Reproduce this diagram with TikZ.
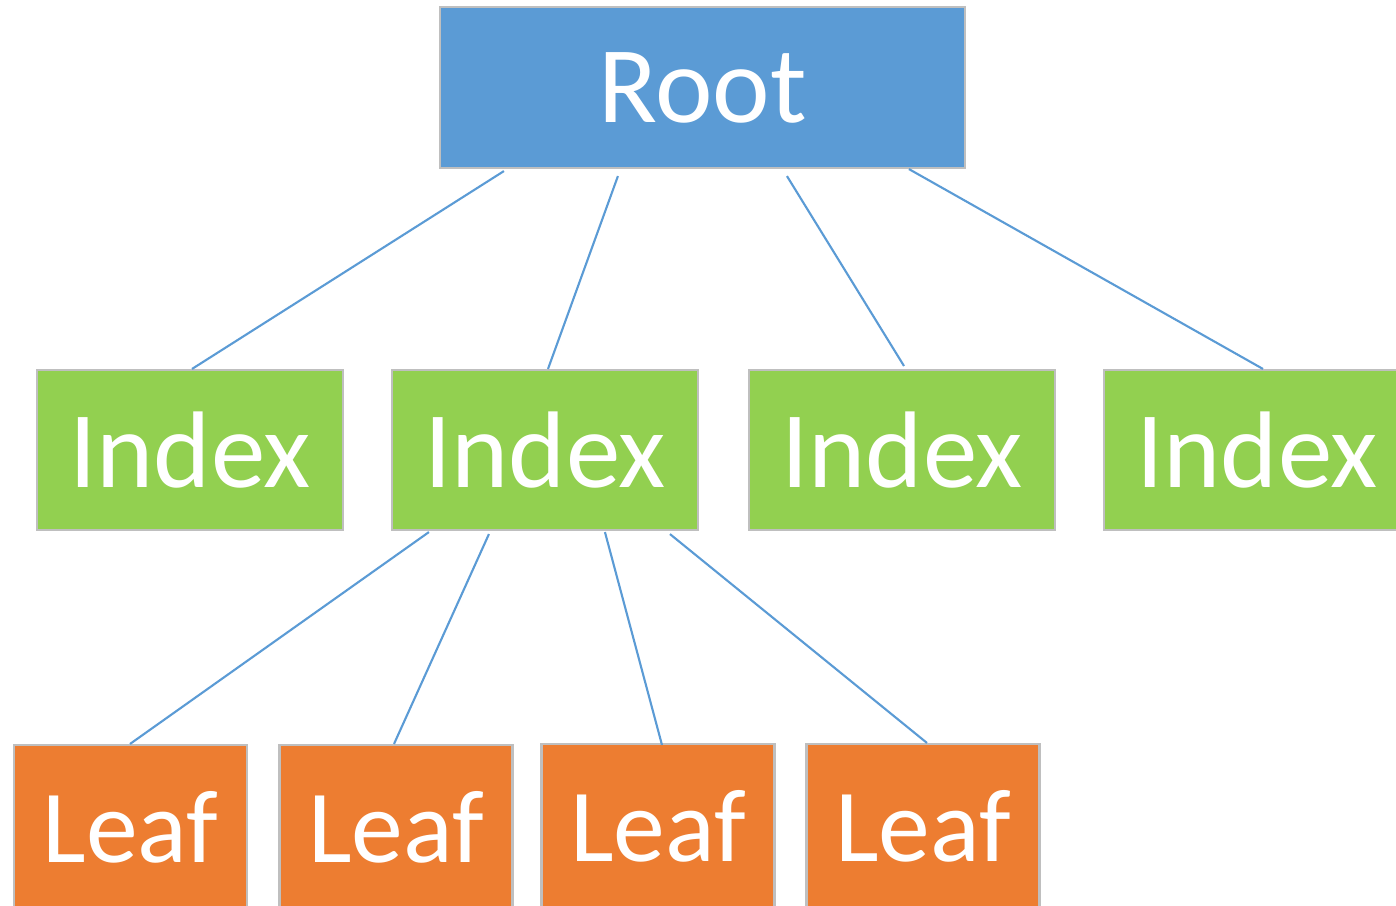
\documentclass[tikz,border=0pt]{standalone}
\usepackage{fontspec}
\setmainfont{Carlito}
\usetikzlibrary{calc}

\definecolor{rootblue}{HTML}{5B9BD5}
\definecolor{indexgreen}{HTML}{92D050}
\definecolor{leaforange}{HTML}{ED7D31}
\definecolor{edgeblue}{HTML}{5B9BD5}

\begin{document}
\begin{tikzpicture}

  \tikzstyle{every node}=[font=\fontsize{31}{37}\selectfont, text=white]

  \tikzset{box/.style={draw=black!25, line width=0.6pt, inner sep=0pt},
    rootbox/.style={box, fill=rootblue, minimum width=5.25cm, minimum height=1.61cm},
    indexbox/.style={box, fill=indexgreen, minimum width=3.06cm, minimum height=1.60cm},
    leafbox/.style={box, fill=leaforange, minimum width=2.33cm, minimum height=1.64cm,
      font=\fontsize{29.5}{35}\selectfont}, 
    link/.style={draw=edgeblue, line width=0.6pt}}

  % Page frame, boxes on the right and bottom run past it
  \clip (0,0) rectangle (13.96,-9.05);

  % Top level
  \node[rootbox] (Root) at (7.025,-0.875) {Root};

  % Second level
  \node[indexbox] (Index 1) at (1.90,-4.50) {Index};
  \node[indexbox] (Index 2) at (5.45,-4.50) {Index};
  \node[indexbox] (Index 3) at (9.02,-4.50) {Index};
  \node[indexbox] (Index 4) at (12.57,-4.50) {Index};

  % Leaves under the second index
  \node[leafbox] (Leaf 1) at (1.305,-8.27) {Leaf};
  \node[leafbox] (Leaf 2) at (3.96,-8.27) {Leaf};
  \node[leafbox] (Leaf 3) at (6.58,-8.26) {Leaf};
  \node[leafbox] (Leaf 4) at (9.23,-8.26) {Leaf};

  % Root to index nodes
  \draw[link] ($(Root.south west)+(0.65,-0.02)$) -- ($(Index 1.north)+(0.02,0)$);
  \draw[link] ($(Root.south west)+(1.79,-0.07)$) -- ($(Index 2.north)+(0.03,0)$);
  \draw[link] ($(Root.south west)+(3.48,-0.07)$) -- ($(Index 3.north)+(0.02,0.03)$);
  \draw[link] ($(Root.south west)+(4.70,0)$) -- ($(Index 4.north)+(0.06,0)$);

  % Second index to leaves
  \draw[link] ($(Index 2.south west)+(0.38,-0.01)$) -- ($(Leaf 1.north)+(-0.005,0)$);
  \draw[link] ($(Index 2.south west)+(0.98,-0.03)$) -- ($(Leaf 2.north)+(-0.02,0)$);
  \draw[link] ($(Index 2.south west)+(2.14,-0.01)$) -- ($(Leaf 3.north)+(0.04,-0.02)$);
  \draw[link] ($(Index 2.south west)+(2.79,-0.03)$) -- ($(Leaf 4.north)+(0.04,0)$);

\end{tikzpicture}
\end{document}
